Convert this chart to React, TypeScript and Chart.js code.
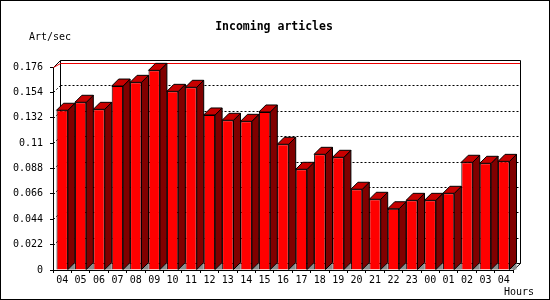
import React, { useEffect, useRef } from "react";
import { Chart, registerables } from "chart.js";

Chart.register(...registerables);

const hours = ["04", "05", "06", "07", "08", "09", "10", "11", "12", "13", "14", "15", "16", "17", "18", "19", "20", "21", "22", "23", "00", "01", "02", "03", "04"];
const artPerSec = [0.1385, 0.1454, 0.1393, 0.1595, 0.1627, 0.1731, 0.1549, 0.1584, 0.1344, 0.1298, 0.1289, 0.137, 0.109, 0.0873, 0.1003, 0.0977, 0.07, 0.0613, 0.0531, 0.0604, 0.0604, 0.0665, 0.0934, 0.0925, 0.0942];
const yMax = 0.176;
const yStep = 0.022;
const titleText = "Incoming articles";
const yTitle = "Art/sec";
const xTitle = "Hours";

const D = 7;
const FONT = "'DejaVu Sans Mono', 'Liberation Mono', monospace";

function line(ctx: CanvasRenderingContext2D, x0: number, y0: number, x1: number, y1: number) {
  ctx.beginPath();
  ctx.moveTo(x0, y0);
  ctx.lineTo(x1, y1);
  ctx.stroke();
}

function poly(ctx: CanvasRenderingContext2D, pts: number[][], fill: string, stroke: boolean) {
  ctx.beginPath();
  ctx.moveTo(pts[0][0], pts[0][1]);
  for (let i = 1; i < pts.length; i++) ctx.lineTo(pts[i][0], pts[i][1]);
  ctx.closePath();
  ctx.fillStyle = fill;
  ctx.fill();
  if (stroke) ctx.stroke();
}

const threeD = {
  id: "threeD",
  beforeDraw(chart: any) {
    const ctx = chart.ctx;
    ctx.save();
    ctx.fillStyle = "#ffffff";
    ctx.fillRect(0, 0, chart.width, chart.height);
    ctx.restore();
  },
  beforeDatasetsDraw(chart: any) {
    const ctx: CanvasRenderingContext2D = chart.ctx;
    const a = chart.chartArea;
    const y = chart.scales.y;
    const L = Math.round(a.left) + 0.5;
    const R = Math.round(a.right);
    const B = Math.round(a.bottom);
    const T = Math.round(a.top);
    const bx0 = L + D;
    const bx1 = R + D + 0.5;
    const by0 = T - D + 0.5;
    const by1 = B - D + 0.5;
    ctx.save();
    ctx.strokeStyle = "#000";
    ctx.lineWidth = 1;
    // dotted gridlines on back wall and side wall
    ctx.setLineDash([2, 2]);
    y.ticks.forEach((t: any) => {
      if (t.value <= 0 || t.value >= yMax - 1e-9) return;
      const py = Math.round(y.getPixelForValue(t.value));
      line(ctx, bx0, py - D + 0.5, bx1, py - D + 0.5);
      line(ctx, L, py + 0.5, bx0, py - D + 0.5);
    });
    ctx.setLineDash([]);
    // back frame
    line(ctx, bx0, by0, bx1, by0);
    line(ctx, bx1, by0, bx1, by1);
    line(ctx, bx0, by0, bx0, by1);
    line(ctx, bx0, by1, bx1, by1);
    line(ctx, L, T + 0.5, bx0, by0);
    line(ctx, R, B + 0.5, bx1, by1);
    // red line
    ctx.strokeStyle = "#ee0000";
    ctx.beginPath();
    ctx.moveTo(L, T + 0.5);
    ctx.lineTo(bx0, by0 + 3);
    ctx.lineTo(bx1 - 0.5, by0 + 3);
    ctx.stroke();
    ctx.restore();
  },
  afterDatasetsDraw(chart: any) {
    const ctx: CanvasRenderingContext2D = chart.ctx;
    const meta = chart.getDatasetMeta(0);
    ctx.save();
    ctx.strokeStyle = "#000";
    ctx.lineWidth = 1;
    meta.data.forEach((bar: any) => {
      const p = bar.getProps(["x", "y", "base", "width"], true);
      const left = p.x - p.width / 2;
      const right = p.x + p.width / 2;
      const top = p.y;
      const bottom = p.base;
      poly(ctx, [[right, bottom], [right + D, bottom - D], [right + D, bottom]], "#8c8c8c", false);
      poly(ctx, [[right, top], [right + D, top - D], [right + D, bottom - D], [right, bottom]], "#800000", true);
      poly(ctx, [[left, top], [left + D, top - D], [right + D, top - D], [right, top]], "#c80000", true);
    });
    ctx.restore();
  },
  afterDraw(chart: any) {
    const ctx: CanvasRenderingContext2D = chart.ctx;
    ctx.save();
    ctx.fillStyle = "#000";
    ctx.textBaseline = "middle";
    ctx.font = `bold 11.5px ${FONT}`;
    ctx.textAlign = "center";
    ctx.fillText(titleText, 274, 27);
    ctx.font = `10px ${FONT}`;
    ctx.textAlign = "left";
    ctx.fillText(yTitle, 29, 37);
    ctx.fillText(xTitle, 504, 292);
    ctx.strokeStyle = "#000";
    ctx.lineWidth = 1;
    ctx.strokeRect(0.5, 0.5, chart.width - 1, chart.height - 1);
    ctx.restore();
  },
};

export default function App() {
  const ref = useRef<HTMLCanvasElement | null>(null);
  useEffect(() => {
    document.body.style.margin = "0";
    const canvas = ref.current!;
    const chart = new Chart(canvas, {
      type: "bar",
      data: {
        labels: hours,
        datasets: [
          {
            data: artPerSec,
            backgroundColor: "#ff0000",
            borderColor: "#000000",
            borderWidth: 1,
            categoryPercentage: 1,
            barPercentage: 0.62,
          },
        ],
      },
      options: {
        responsive: false,
        animation: false,
        devicePixelRatio: 1,
        layout: { padding: { top: 67, right: 37, left: 0, bottom: 0 } },
        plugins: { legend: { display: false }, tooltip: { enabled: false }, title: { display: false } },
        scales: {
          x: {
            afterFit: (s: any) => {
              s.height = 30;
            },
            grid: { drawOnChartArea: false, drawTicks: true, tickLength: 3, color: "#000" },
            border: { display: true, color: "#000" },
            ticks: { color: "#000", font: { family: FONT, size: 10 }, padding: 1, maxRotation: 0, autoSkip: false },
          },
          y: {
            min: 0,
            max: yMax,
            afterFit: (s: any) => {
              s.width = 53;
            },
            grid: { drawOnChartArea: false, drawTicks: true, tickLength: 3, color: "#000" },
            border: { display: true, color: "#000" },
            ticks: {
              stepSize: yStep,
              color: "#000",
              font: { family: FONT, size: 10 },
              padding: 7,
              callback: (v: any) => String(+Number(v).toFixed(3)),
            },
          },
        },
      },
      plugins: [threeD],
    });
    return () => chart.destroy();
  }, []);
  return <canvas ref={ref} width={550} height={300} style={{ display: "block" }} />;
}
